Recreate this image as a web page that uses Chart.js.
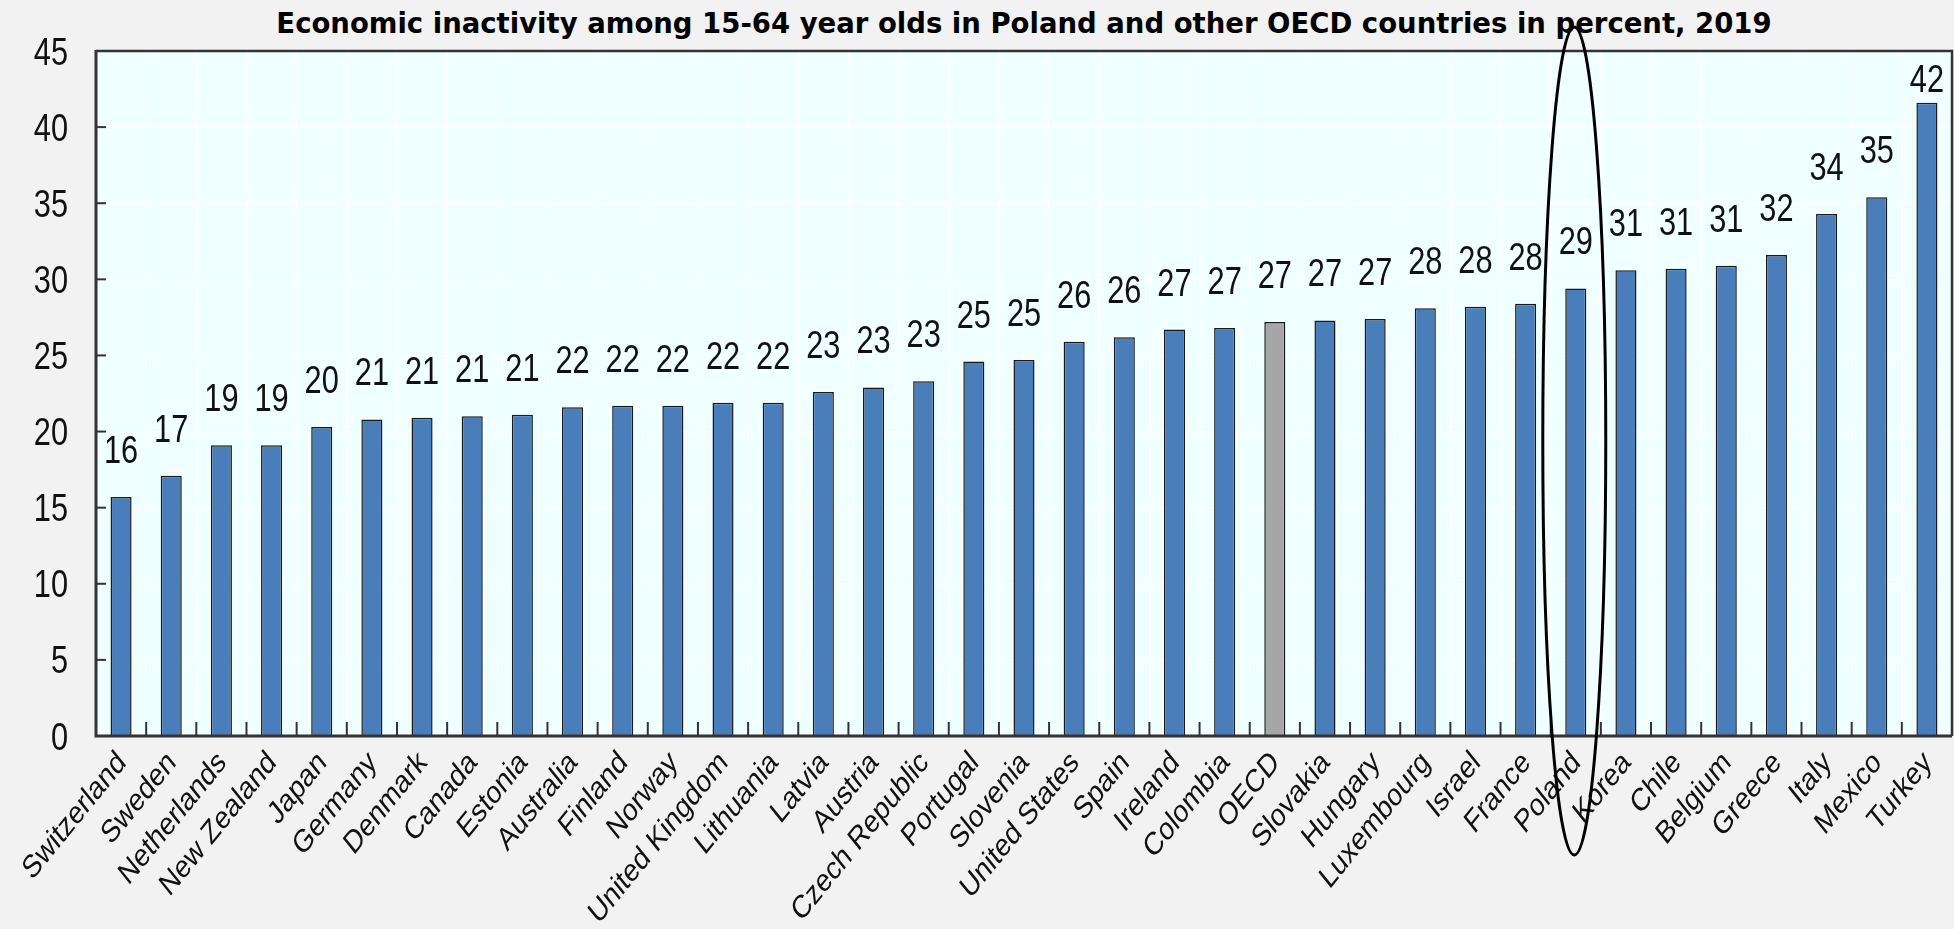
<!DOCTYPE html>
<html>
<head>
<meta charset="utf-8">
<script src="https://cdn.jsdelivr.net/npm/chart.js@4.4.1/dist/chart.umd.min.js"></script>
<style>
  html, body { margin: 0; padding: 0; background: #f2f2f2; width: 1954px; height: 929px; overflow: hidden; }
  #title {
    position: absolute; left: 96px; top: 8px; width: 1856px;
    text-align: center; font-family: 'DejaVu Sans', sans-serif; font-weight: bold;
    font-size: 27.5px; line-height: 30px; color: #000; white-space: nowrap;
  }
  #wrap { position: absolute; left: 0; top: 0; width: 1954px; height: 929px; }
</style>
</head>
<body>
<div id="title">Economic inactivity among 15-64 year olds in Poland and other OECD countries in percent, 2019</div>
<div id="wrap"><canvas id="chart"></canvas></div>
<script>
// Economic inactivity rate, population aged 15-64, 2019 (%)
const countries = [
  'Switzerland', 'Sweden', 'Netherlands', 'New Zealand', 'Japan', 'Germany', 'Denmark',
  'Canada', 'Estonia', 'Australia', 'Finland', 'Norway', 'United Kingdom', 'Lithuania',
  'Latvia', 'Austria', 'Czech Republic', 'Portugal', 'Slovenia', 'United States', 'Spain',
  'Ireland', 'Colombia', 'OECD', 'Slovakia', 'Hungary', 'Luxembourg', 'Israel', 'France',
  'Poland', 'Korea', 'Chile', 'Belgium', 'Greece', 'Italy', 'Mexico', 'Turkey'
];
const inactivity = [
  15.7, 17.1, 19.1, 19.1, 20.3, 20.8, 20.9,
  21.0, 21.1, 21.6, 21.7, 21.7, 21.9, 21.9,
  22.6, 22.9, 23.3, 24.6, 24.7, 25.9, 26.2,
  26.7, 26.8, 27.2, 27.3, 27.4, 28.1, 28.2, 28.4,
  29.4, 30.6, 30.7, 30.9, 31.6, 34.3, 35.4, 41.6
];
const yTicks = [0, 5, 10, 15, 20, 25, 30, 35, 40, 45];
const highlighted = 'Poland';
const aggregate = 'OECD';

// Text is set in Liberation Sans and squeezed horizontally (whole-figure squeeze,
// so rotated category names come out slanted the same way)
const VALUE_FONT = "38px 'Liberation Sans', Arial, sans-serif";
const CATEGORY_FONT = "32px 'Liberation Sans', Arial, sans-serif";
const SQUEEZE = 0.81;
const CATEGORY_ANGLE = 45;
const BLUE = '#4a7ebb';
const GREY = '#a6a6a6';
const INK = '#111111';
const FRAME = '#333333';

const barColors = countries.map(c => (c === aggregate ? GREY : BLUE));

function squeezedText(ctx, text, x, y, font, angleDeg, align) {
  ctx.save();
  ctx.translate(x, y);
  ctx.scale(SQUEEZE, 1);
  if (angleDeg) ctx.rotate(-angleDeg * Math.PI / 180);
  ctx.font = font;
  ctx.fillStyle = INK;
  ctx.textAlign = align;
  ctx.textBaseline = 'alphabetic';
  ctx.fillText(text, 0, 0);
  ctx.restore();
}

// Light cyan plot panel behind the grid
const panelPlugin = {
  id: 'panel',
  beforeDraw(chart) {
    const { ctx, chartArea: a } = chart;
    ctx.save();
    ctx.fillStyle = '#f0ffff';
    ctx.fillRect(a.left, a.top, a.right - a.left, a.bottom - a.top);
    ctx.restore();
  }
};

// Frame around the plot and inward-pointing tick marks
const framePlugin = {
  id: 'frame',
  afterDatasetsDraw(chart) {
    const { ctx, chartArea: a, scales: { x, y } } = chart;
    ctx.save();
    ctx.strokeStyle = FRAME;
    ctx.lineCap = 'butt';
    ctx.lineWidth = 2;
    for (let i = 1; i < countries.length; i++) {
      const px = (x.getPixelForValue(i - 1) + x.getPixelForValue(i)) / 2;
      ctx.beginPath();
      ctx.moveTo(px, a.bottom);
      ctx.lineTo(px, a.bottom - 14);
      ctx.stroke();
    }
    yTicks.forEach(v => {
      if (v === 0 || v === 45) return;
      const py = y.getPixelForValue(v);
      ctx.beginPath();
      ctx.moveTo(a.left, py);
      ctx.lineTo(a.left + 10, py);
      ctx.stroke();
    });
    ctx.lineWidth = 2.5;
    ctx.beginPath();
    ctx.moveTo(a.left, a.top);
    ctx.lineTo(a.right, a.top);
    ctx.lineTo(a.right, a.bottom);
    ctx.stroke();
    ctx.lineWidth = 3;
    ctx.beginPath();
    ctx.moveTo(a.left, a.top - 1);
    ctx.lineTo(a.left, a.bottom);
    ctx.lineTo(a.right, a.bottom);
    ctx.stroke();
    ctx.restore();
  }
};

// Axis labels placed from the scales
const axisLabelPlugin = {
  id: 'axisLabels',
  afterDraw(chart) {
    const { ctx, chartArea: a, scales: { x, y } } = chart;
    countries.forEach((name, i) => {
      const px = x.getPixelForValue(i);
      squeezedText(ctx, name, px + 6, a.bottom + 28, CATEGORY_FONT, CATEGORY_ANGLE, 'right');
    });
    yTicks.forEach(v => {
      const py = y.getPixelForValue(v);
      squeezedText(ctx, String(v), a.left - 28, py + 13.5, VALUE_FONT, 0, 'right');
    });
  }
};

// Rounded values above each bar
const valueLabelPlugin = {
  id: 'valueLabels',
  afterDatasetsDraw(chart) {
    const { ctx, chartArea: a } = chart;
    const meta = chart.getDatasetMeta(0);
    const minBaseline = a.top + 41;
    meta.data.forEach((bar, i) => {
      const text = String(Math.round(inactivity[i]));
      const base = Math.max(bar.y - 34, minBaseline);
      squeezedText(ctx, text, bar.x, base, VALUE_FONT, 0, 'center');
    });
  }
};

// Ellipse drawn round the highlighted country
const highlightPlugin = {
  id: 'highlight',
  afterDraw(chart) {
    const { ctx, chartArea: a, scales: { x } } = chart;
    const idx = countries.indexOf(highlighted);
    if (idx < 0) return;
    const cx = x.getPixelForValue(idx) - 1.5;
    const top = a.top - 24;
    const bottom = a.bottom + 119;
    ctx.save();
    ctx.strokeStyle = '#000';
    ctx.lineWidth = 3;
    ctx.beginPath();
    ctx.ellipse(cx, (top + bottom) / 2, 31.5, (bottom - top) / 2, 0, 0, Math.PI * 2);
    ctx.stroke();
    ctx.restore();
  }
};

new Chart(document.getElementById('chart'), {
  type: 'bar',
  data: {
    labels: countries,
    datasets: [{
      data: inactivity,
      backgroundColor: barColors,
      borderColor: '#1a1a1a',
      borderWidth: 1.5,
      borderSkipped: 'start',
      barPercentage: 0.42,
      categoryPercentage: 1.0
    }]
  },
  options: {
    responsive: true,
    maintainAspectRatio: false,
    animation: false,
    devicePixelRatio: 1,
    layout: { padding: { top: 51, right: 2, bottom: 0, left: 0 } },
    plugins: {
      legend: { display: false },
      title: { display: false },
      tooltip: { enabled: false }
    },
    scales: {
      x: {
        offset: true,
        grid: { display: true, offset: true, color: '#ffffff', lineWidth: 1.5, drawTicks: false },
        border: { display: false },
        ticks: { display: false, autoSkip: false },
        afterFit(scale) {
          scale.height = 193;
          scale.paddingLeft = 0;
          scale.paddingRight = 0;
        }
      },
      y: {
        min: 0,
        max: 45,
        grid: { display: true, color: '#ffffff', lineWidth: 1.5, drawTicks: false },
        border: { display: false },
        afterBuildTicks(scale) {
          scale.ticks = yTicks.map(v => ({ value: v }));
        },
        ticks: { display: false },
        afterFit(scale) {
          scale.width = 96;
          scale.paddingTop = 0;
          scale.paddingBottom = 0;
        }
      }
    }
  },
  plugins: [panelPlugin, framePlugin, valueLabelPlugin, axisLabelPlugin, highlightPlugin]
});
</script>
</body>
</html>
